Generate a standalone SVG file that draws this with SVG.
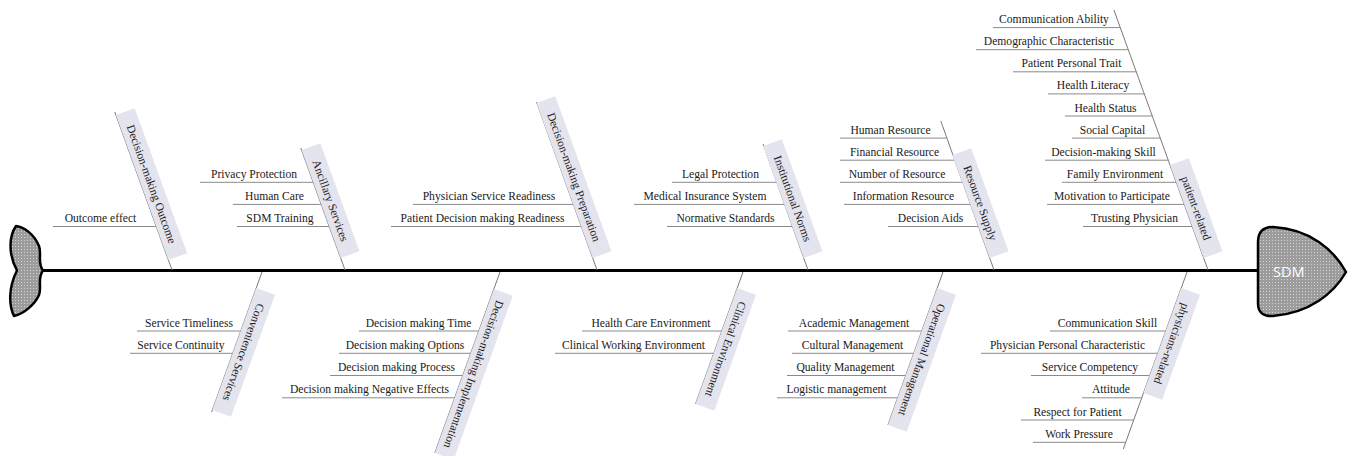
<svg xmlns="http://www.w3.org/2000/svg" width="1354" height="456" viewBox="0 0 1354 456">
<defs>
<pattern id="dots" width="3" height="3" patternUnits="userSpaceOnUse"><rect width="3" height="3" fill="#9c9c9c"/><rect width="1" height="1" fill="#d2d2d2"/></pattern>
<style>
.t{font-family:"Liberation Serif","Times New Roman",serif;font-size:11.6px;fill:#1a1a1a;text-anchor:middle}
.bx{fill:#e4e4ef}
.bone{stroke:#7a7a7a;stroke-width:1;fill:none}
.sub{stroke:#8a8a8a;stroke-width:1;fill:none}
.spine{stroke:#000;stroke-width:3;fill:none}
.fish{fill:url(#dots);stroke:#000;stroke-width:2.5;stroke-linejoin:round}
</style>
</defs>
<rect width="1354" height="456" fill="#fff"/>

<g id="connectors">
<line class="spine" x1="42" y1="270.5" x2="1259" y2="270.5"/>
<line class="bone" x1="114.8" y1="112" x2="172" y2="270"/>
<line class="bone" x1="300.8" y1="148" x2="345" y2="270"/>
<line class="bone" x1="536.5" y1="102" x2="597" y2="270"/>
<line class="bone" x1="763.1" y1="144" x2="808" y2="270"/>
<line class="bone" x1="940.8" y1="121" x2="994" y2="270"/>
<line class="bone" x1="1113.9" y1="10" x2="1208" y2="270"/>
<line class="bone" x1="262" y1="272" x2="211.6" y2="412"/>
<line class="bone" x1="500" y1="272" x2="434.8" y2="453"/>
<line class="bone" x1="743" y1="272" x2="695.5" y2="404"/>
<line class="bone" x1="943" y1="272" x2="887.9" y2="425"/>
<line class="bone" x1="1187" y1="272" x2="1123.3" y2="449"/>
<path class="sub" d="M53,226.5H156.1
M200,182.3H313.5 M233,204.4H321.5 M237,226.5H329.3
M413,204.4H573.5 M391,226.5H581.3
M672,182.3H776.6 M634,204.4H784.4 M667,226.5H792.3
M840,138.1H946.3 M840,160.2H954.2 M840,182.3H962.2 M844,204.4H970.2 M888,226.5H978.2
M993,27.6H1120.3 M976,49.7H1128.3 M1013,71.8H1136.3 M1048,93.9H1144.3 M1065,116H1152.3 M1072,138.1H1160.3 M1045,160.2H1168.3 M1062,182.3H1176.3 M1047,204.4H1184.3 M1083,226.5H1192.3
M137,331H240.8 M130,353.3H232.7
M359,331H478.8 M339,353.3H470.7 M330,375.5H462.7 M282,397.8H454.7
M582,331H721.8 M555,353.3H713.7
M788,331H921.8 M792,353.3H913.7 M787,375.5H905.7 M777,397.8H897.7
M1050,331H1165.8 M981,353.3H1157.7 M1031,375.5H1149.7 M1082,397.8H1141.7 M1021,420H1133.7 M1033,442.3H1125.7"/>
</g>

<g id="tail">
<path class="fish" d="M43,270.5 C37,263 42,254 39,246 C34,234 24,227 16,226 C9,236 8,254 17,270.5 C8,288 9,306 14,316 C24,314 35,304 39,295 C42,287 37,278 43,270.5 Z"/>
</g>

<g id="head">
<path class="fish" d="M1258,242 Q1258,227 1273,227 C1310,229 1334,250 1346,272 C1334,293 1310,313 1273,316 Q1258,317 1258,303 Z"/>
<text x="1273" y="277" font-family="'Open Sans','Noto Sans',sans-serif" font-size="14.5" fill="#fff">SDM</text>
</g>

<g id="decision-making-outcome">
<g transform="translate(115.9,115) rotate(70.1)"><rect class="bx" x="0" y="-20" width="154.2" height="20"/><text class="t" x="77.1" y="-6">Decision-making Outcome</text></g>
<text class="t" x="100.5" y="222">Outcome effect</text>
</g>

<g id="ancillary-services">
<g transform="translate(301.6,150) rotate(70.1)"><rect class="bx" x="0" y="-20" width="114.9" height="20"/><text class="t" x="57.4" y="-6">Ancillary Services</text></g>
<text class="t" x="254" y="178">Privacy Protection</text>
<text class="t" x="274.5" y="200">Human Care</text>
<text class="t" x="280" y="222">SDM Training</text>
</g>

<g id="decision-making-preparation">
<g transform="translate(536.5,103) rotate(70.1)"><rect class="bx" x="0" y="-20" width="164.8" height="20"/><text class="t" x="82.4" y="-6">Decision-making Preparation</text></g>
<text class="t" x="489" y="200">Physician Service Readiness</text>
<text class="t" x="482.5" y="222">Patient Decision making Readiness</text>
</g>

<g id="institutional-norms">
<g transform="translate(763.1,146) rotate(70.1)"><rect class="bx" x="0" y="-20" width="119.1" height="20"/><text class="t" x="59.5" y="-6">Institutional Norms</text></g>
<text class="t" x="720.5" y="178">Legal Protection</text>
<text class="t" x="705" y="200">Medical Insurance System</text>
<text class="t" x="725.5" y="222">Normative Standards</text>
</g>

<g id="resource-supply">
<g transform="translate(952.4,155) rotate(70.1)"><rect class="bx" x="0" y="-20" width="109.5" height="20"/><text class="t" x="54.7" y="-6">Resource Supply</text></g>
<text class="t" x="890.5" y="133.6">Human Resource</text>
<text class="t" x="894.5" y="155.7">Financial Resource</text>
<text class="t" x="897" y="177.8">Number of Resource</text>
<text class="t" x="903.5" y="199.9">Information Resource</text>
<text class="t" x="930.5" y="222">Decision Aids</text>
</g>

<g id="patient-related">
<g transform="translate(1170,165) rotate(70.1)"><rect class="bx" x="0" y="-20" width="98.9" height="20"/><text class="t" x="49.4" y="-6">patient-related</text></g>
<text class="t" x="1054" y="23.1">Communication Ability</text>
<text class="t" x="1049" y="45.2">Demographic Characteristic</text>
<text class="t" x="1071.5" y="67.3">Patient Personal Trait</text>
<text class="t" x="1093" y="89.4">Health Literacy</text>
<text class="t" x="1105.5" y="111.5">Health Status</text>
<text class="t" x="1112.5" y="133.6">Social Capital</text>
<text class="t" x="1103.5" y="155.7">Decision-making Skill</text>
<text class="t" x="1115" y="177.8">Family Environment</text>
<text class="t" x="1112" y="199.9">Motivation to Participate</text>
<text class="t" x="1134.5" y="222">Trusting Physician</text>
</g>

<g id="convenience-services">
<g transform="translate(256.2,288) rotate(109.8)"><rect class="bx" x="0" y="-20" width="129.7" height="20"/><text class="t" x="64.8" y="-6">Convenience Services</text></g>
<text class="t" x="189" y="326.5">Service Timeliness</text>
<text class="t" x="181" y="348.8">Service Continuity</text>
</g>

<g id="decision-making-implementation">
<g transform="translate(493.9,289) rotate(109.8)"><rect class="bx" x="0" y="-20" width="174.3" height="20"/><text class="t" x="87.1" y="-6">Decision-making Implementation</text></g>
<text class="t" x="418.5" y="326.5">Decision making Time</text>
<text class="t" x="405" y="348.8">Decision making Options</text>
<text class="t" x="396.5" y="371">Decision making Process</text>
<text class="t" x="369.5" y="393.3">Decision making Negative Effects</text>
</g>

<g id="clinical-environment">
<g transform="translate(737.2,288) rotate(109.8)"><rect class="bx" x="0" y="-20" width="123.3" height="20"/><text class="t" x="61.6" y="-6">Clinical Environment</text></g>
<text class="t" x="651" y="326.5">Health Care Environment</text>
<text class="t" x="633.5" y="348.8">Clinical Working Environment</text>
</g>

<g id="operational-management">
<g transform="translate(937.2,288) rotate(109.8)"><rect class="bx" x="0" y="-20" width="145.6" height="20"/><text class="t" x="72.8" y="-6">Operational Management</text></g>
<text class="t" x="854" y="326.5">Academic Management</text>
<text class="t" x="852.5" y="348.8">Cultural Management</text>
<text class="t" x="845.5" y="371">Quality Management</text>
<text class="t" x="836.5" y="393.3">Logistic management</text>
</g>

<g id="physicians-related">
<g transform="translate(1181.2,288) rotate(109.8)"><rect class="bx" x="0" y="-20" width="111.6" height="20"/><text class="t" x="55.8" y="-6">physicians-related</text></g>
<text class="t" x="1107.5" y="326.5">Communication Skill</text>
<text class="t" x="1067.5" y="348.8">Physician Personal Characteristic</text>
<text class="t" x="1090" y="371">Service Competency</text>
<text class="t" x="1111" y="393.3">Attitude</text>
<text class="t" x="1077.5" y="415.5">Respect for Patient</text>
<text class="t" x="1079" y="437.8">Work Pressure</text>
</g>
</svg>
